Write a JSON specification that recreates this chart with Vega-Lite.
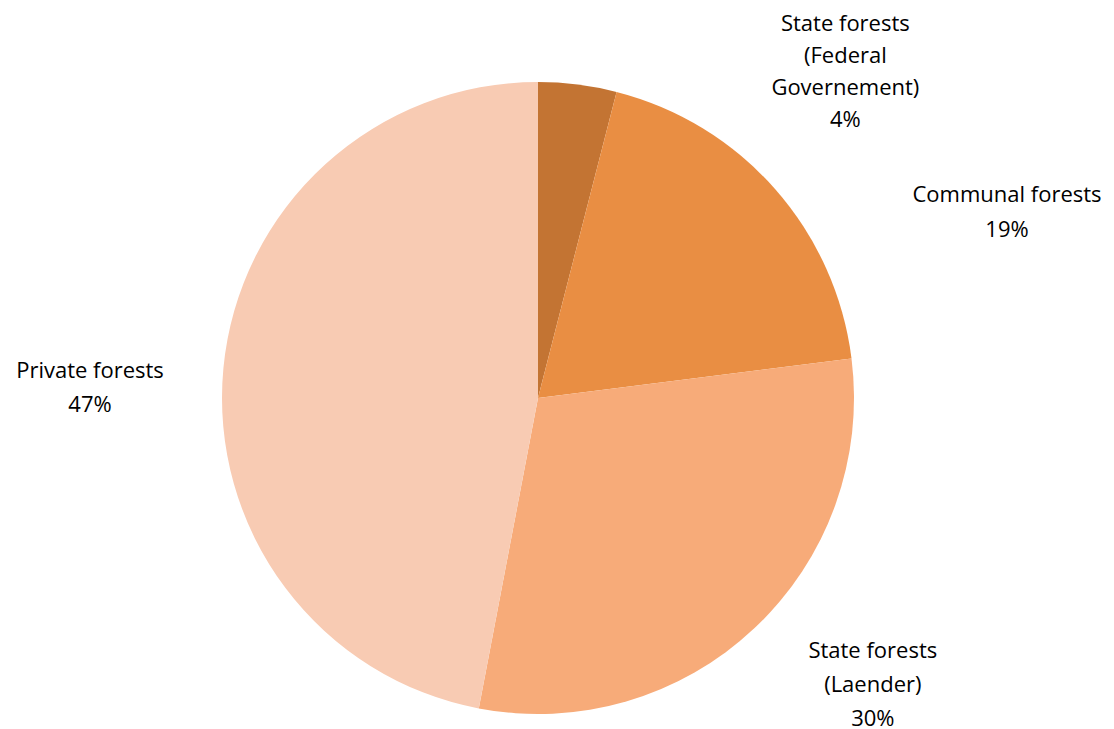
{
  "$schema": "https://vega.github.io/schema/vega-lite/v6.json",
  "width": 1076,
  "height": 662,
  "autosize": "none",
  "padding": {"left": 0, "top": 67, "right": 38, "bottom": 0},
  "background": "white",
  "view": {"stroke": null},
  "data": {
    "values": [
      {"name": "State forests (Federal Governement)", "label": "State forests\n(Federal\nGovernement)\n4%", "share": 4},
      {"name": "Communal forests", "label": "Communal forests\n19%", "share": 19},
      {"name": "State forests (Laender)", "label": "State forests\n(Laender)\n30%", "share": 30},
      {"name": "Private forests", "label": "Private forests\n47%", "share": 47}
    ]
  },
  "transform": [{"window": [{"op": "row_number", "as": "idx"}]}],
  "encoding": {
    "theta": {"field": "share", "type": "quantitative", "stack": true},
    "order": {"field": "idx", "type": "quantitative"}
  },
  "layer": [
    {
      "mark": {"type": "arc", "outerRadius": 316},
      "encoding": {
        "color": {
          "field": "name",
          "type": "nominal",
          "scale": {
            "domain": ["State forests (Federal Governement)", "Communal forests", "State forests (Laender)", "Private forests"],
            "range": ["#C37433", "#E98E43", "#F7AB79", "#F8CBB3"]
          },
          "legend": null
        }
      }
    },
    {
      "mark": {"type": "text", "radius": 330, "dx": 266, "dy": -47, "font": "Open Sans", "fontSize": 22, "lineHeight": 32, "lineBreak": "\n", "color": "#000000", "align": "center", "baseline": "middle"},
      "encoding": {"text": {"condition": {"test": "datum.idx === 1", "field": "label"}, "value": ""}}
    },
    {
      "mark": {"type": "text", "radius": 300, "dx": 244, "dy": -5, "font": "Open Sans", "fontSize": 22, "lineHeight": 35, "lineBreak": "\n", "color": "#000000", "align": "center", "baseline": "middle"},
      "encoding": {"text": {"condition": {"test": "datum.idx === 2", "field": "label"}, "value": ""}}
    },
    {
      "mark": {"type": "text", "radius": 400, "dx": 61, "dy": -39, "font": "Open Sans", "fontSize": 22, "lineHeight": 34, "lineBreak": "\n", "color": "#000000", "align": "center", "baseline": "middle"},
      "encoding": {"text": {"condition": {"test": "datum.idx === 3", "field": "label"}, "value": ""}}
    },
    {
      "mark": {"type": "text", "radius": 450, "dx": 0, "dy": 15, "font": "Open Sans", "fontSize": 22, "lineHeight": 34, "lineBreak": "\n", "color": "#000000", "align": "center", "baseline": "middle"},
      "encoding": {"text": {"condition": {"test": "datum.idx === 4", "field": "label"}, "value": ""}}
    }
  ]
}
